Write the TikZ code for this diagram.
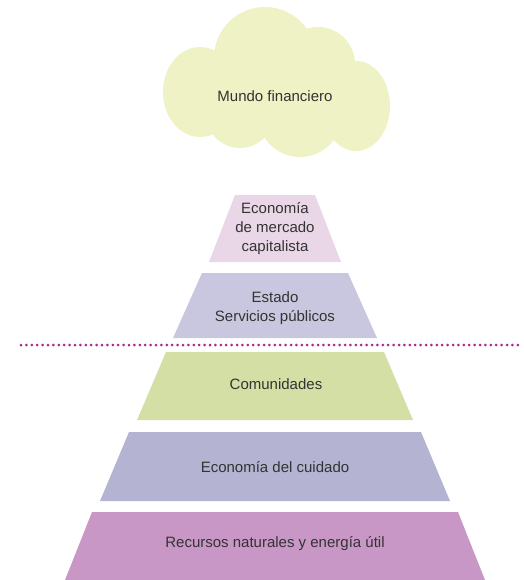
\documentclass[tikz,border=0pt]{standalone}
\usepackage{fontspec}
\setmainfont{Liberation Sans}
\definecolor{cloudc}{HTML}{EEF2C4}
\definecolor{layA}{HTML}{E9D7E8}
\definecolor{layB}{HTML}{C9C7DF}
\definecolor{layC}{HTML}{D4DFA6}
\definecolor{layD}{HTML}{B4B3D1}
\definecolor{layE}{HTML}{C997C6}
\definecolor{dotc}{HTML}{A82A8C}
\definecolor{txt}{HTML}{333333}
\tikzset{
  lbl/.style={text=txt, font=\fontsize{15}{19}\selectfont, align=center, inner sep=0pt},
}
\begin{document}
\begin{tikzpicture}[x=1pt,y=-1pt]
\useasboundingbox (0,0) rectangle (523,580);
% cloud
\begin{scope}[fill=cloudc]
  \fill (200,92) ellipse [x radius=37, y radius=45];
  \fill (265,58) circle [radius=51];
  \fill (318,64) circle [radius=37];
  \fill (356,106) ellipse [x radius=34, y radius=45];
  \fill (240,114) circle [radius=34];
  \fill (300,115) circle [radius=42];
  \fill (200,70) rectangle (356,130);
\end{scope}
\node[lbl] (mundo) at (275,96) {Mundo financiero};
% layers
\fill[layA] (235,195) -- (315,195) -- (341,262) -- (209,262) -- cycle;
\fill[layB] (202,273) -- (348,273) -- (377,338) -- (173,338) -- cycle;
\fill[layC] (166,352) -- (384,352) -- (413,420) -- (137,420) -- cycle;
\fill[layD] (129,432) -- (421,432) -- (450,501) -- (100,501) -- cycle;
\fill[layE] (92,512) -- (458,512) -- (485,580) -- (65,580) -- cycle;
\node[lbl] (eco) at (275,229) {Economía\\de mercado\\capitalista};
\node[lbl] (estado) at (275,308) {Estado\\Servicios públicos};
\node[lbl] (comu) at (276,384) {Comunidades};
\node[lbl] (cuid) at (275,467) {Economía del cuidado};
\node[lbl] (recu) at (275,544) {Recursos naturales y energía útil};
% dotted separator
\coordinate (dl) at (21,345);
\coordinate (dr) at (523,345);
\draw[dotc, line width=3pt, line cap=round, dash pattern=on 0pt off 5.4pt] (dl) -- (dr);
\end{tikzpicture}
\end{document}
